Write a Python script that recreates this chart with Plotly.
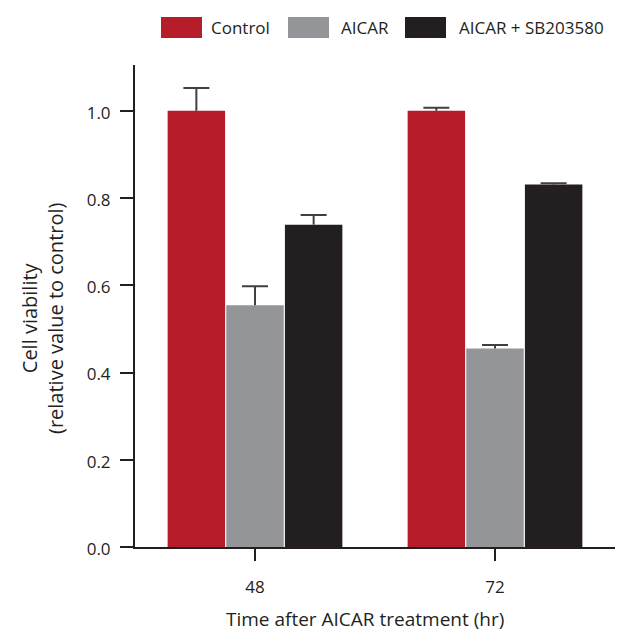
import plotly.graph_objects as go

categories = ["48", "72"]
series_names = ["Control", "AICAR", "AICAR + SB203580"]
control = [1.0, 1.0]
aicar = [0.554, 0.455]
aicar_sb = [0.739, 0.831]
control_err = [0.052, 0.007]
aicar_err = [0.044, 0.008]
aicar_sb_err = [0.022, 0.003]
y_ticks = [0.0, 0.2, 0.4, 0.6, 0.8, 1.0]

colors = ["#B71C2B", "#939598", "#231F20"]
FONT = "Open Sans"
TXT = "#231F20"
ERR = "#404040"

fig = go.Figure()
for i, (name, vals, errs, col) in enumerate(zip(series_names, [control, aicar, aicar_sb],
                                                [control_err, aicar_err, aicar_sb_err], colors)):
    # visible bar with error stem (no caps)
    fig.add_trace(go.Bar(
        x=categories, y=vals, name=name, offsetgroup=str(i),
        marker=dict(color=col, line=dict(width=0)),
        error_y=dict(type="data", array=errs, symmetric=False, arrayminus=[0] * len(errs),
                     color=ERR, thickness=2, width=0),
        showlegend=False,
    ))
    # transparent bar carrying the top cap of the error bar
    fig.add_trace(go.Bar(
        x=categories, y=[v + e for v, e in zip(vals, errs)], offsetgroup=str(i),
        marker=dict(color="rgba(0,0,0,0)", line=dict(width=0)),
        error_y=dict(type="data", array=[0] * len(errs), symmetric=True,
                     color=ERR, thickness=2, width=13),
        showlegend=False, hoverinfo="skip",
    ))

# manual legend (large swatches)
L, R, T, B = 135, 4, 65, 87
W, H = 619 - L - R, 634 - T - B


def px2x(px):
    return (px - L) / W


def py2y(py):
    return (634 - B - py) / H


legend_items = [(161, 209), (288, 339), (405, 457)]
for (sx, tx), name, col in zip(legend_items, series_names, colors):
    fig.add_shape(type="rect", xref="paper", yref="paper",
                  x0=px2x(sx), x1=px2x(sx + 41), y0=py2y(38), y1=py2y(17),
                  fillcolor=col, line=dict(width=0))
    fig.add_annotation(xref="paper", yref="paper", x=px2x(tx), y=py2y(27),
                       text=name, showarrow=False, xanchor="left", yanchor="middle",
                       font=dict(family=FONT, size=17, color=TXT))

# axis titles
fig.add_annotation(xref="paper", yref="paper", x=px2x(365), y=py2y(619),
                   text="Time after AICAR treatment (hr)", showarrow=False,
                   xanchor="center", yanchor="middle", borderpad=0,
                   font=dict(family=FONT, size=19, color=TXT))
fig.add_annotation(xref="paper", yref="paper", x=px2x(42), y=py2y(318),
                   text="Cell viability<br>(relative value to control)", showarrow=False,
                   textangle=-90, xanchor="center", yanchor="middle",
                   font=dict(family=FONT, size=20, color=TXT))

fig.update_layout(
    width=619, height=634,
    margin=dict(l=L, r=R, t=T, b=B),
    paper_bgcolor="white", plot_bgcolor="white",
    barmode="group", bargap=0.267, bargroupgap=0.02,
    font=dict(family=FONT, size=17, color=TXT),
    xaxis=dict(type="category", range=[-0.5, 1.5], showline=True, linecolor="#231F20",
               linewidth=2, ticks="outside", ticklen=12, tickwidth=2, tickcolor="#231F20",
               showgrid=False, zeroline=False, ticklabelstandoff=12,
               tickfont=dict(family=FONT, size=17, color=TXT)),
    yaxis=dict(range=[0, 1.105], showline=True, linecolor="#231F20", linewidth=2,
               ticks="outside", ticklen=13, tickwidth=2, tickcolor="#231F20",
               tickvals=y_ticks, tickformat=".1f", showgrid=False, zeroline=False,
               ticklabelstandoff=6, ticklabelshift=2,
               tickfont=dict(family=FONT, size=17, color=TXT)),
)

fig.write_html("out.html", config={"displayModeBar": False},
               post_script="document.body.style.margin='0px';")
